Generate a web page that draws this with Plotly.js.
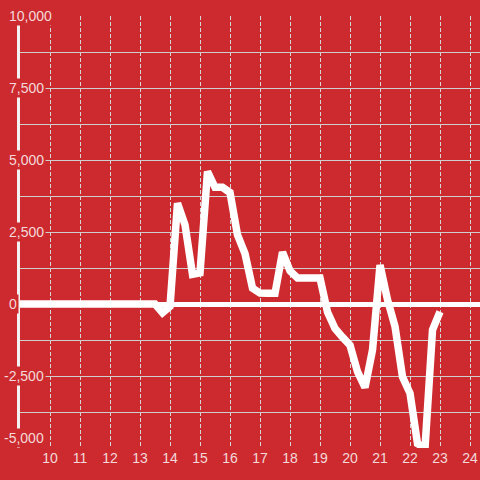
<!DOCTYPE html>
<html>
<head>
<meta charset="utf-8">
<script src="https://cdn.plot.ly/plotly-3.0.1.min.js"></script>
<style>
  html, body { margin: 0; padding: 0; background: #cd2a2f; }
  #chart { width: 480px; height: 480px; }
</style>
</head>
<body>
<div id="chart"></div>
<script>
// ---- data ----
const hours = [
  9.0, 9.25, 9.5, 9.75, 10.0, 10.25, 10.5, 10.75, 11.0, 11.25, 11.5, 11.75,
  12.0, 12.25, 12.5, 12.75, 13.0, 13.25, 13.5, 13.75, 14.0, 14.25, 14.5, 14.75,
  15.0, 15.25, 15.5, 15.75, 16.0, 16.25, 16.5, 16.75, 17.0, 17.25, 17.5, 17.75,
  18.0, 18.25, 18.5, 18.75, 19.0, 19.25, 19.5, 19.75, 20.0, 20.25, 20.5, 20.75,
  21.0, 21.25, 21.5, 21.75, 22.0, 22.25, 22.5, 22.75, 23.0
];
const values = [
  0, 0, 0, 0, 0, 0, 0, 0, 0, 0, 0, 0,
  0, 0, 0, 0, 0, 0, 0, -300, -80, 3500, 2750, 1030,
  1080, 4600, 4050, 4050, 3870, 2400, 1750, 550, 380, 370, 370, 1800,
  1150, 900, 900, 900, 900, -280, -850, -1150, -1430, -2350, -2900, -1600,
  1350, 150, -780, -2530, -3100, -4850, -5000, -900, -270
];
const xTicks = [10, 11, 12, 13, 14, 15, 16, 17, 18, 19, 20, 21, 22, 23, 24];
const yLabelValues = [-5000, -2500, 0, 2500, 5000, 7500, 10000];

// ---- style ----
const BG = '#cd2a2f';
const LABEL = '#f3d9d9';
const FONT = 'Liberation Sans, Arial, sans-serif';

const trace = {
  x: hours,
  y: values,
  type: 'scatter',
  mode: 'lines',
  line: { color: '#ffffff', width: 7.5 },
  hoverinfo: 'skip',
  cliponaxis: true
};

const annotations = yLabelValues.map((v, i) => ({
  xref: 'paper', x: 0,
  yref: 'y', y: v,
  xanchor: 'left',
  yanchor: i === 0 ? 'bottom' : 'middle',
  xshift: String(v).startsWith('-') ? -18 : -13,
  text: v.toLocaleString('en-US'),
  showarrow: false,
  bgcolor: BG,
  borderpad: 1,
  font: { family: FONT, size: 14, color: LABEL }
}));

const layout = {
  width: 480,
  height: 480,
  paper_bgcolor: BG,
  plot_bgcolor: BG,
  margin: { l: 20, r: 0, t: 16, b: 32 },
  showlegend: false,
  xaxis: {
    range: [9, 24.333],
    tickmode: 'array',
    tickvals: xTicks,
    ticktext: xTicks.map(String),
    showgrid: true,
    gridcolor: '#d6d6d6',
    gridwidth: 1,
    griddash: '4px,2px',
    zeroline: false,
    showline: false,
    ticks: '',
    tickfont: { family: FONT, size: 14, color: LABEL },
    fixedrange: true
  },
  yaxis: {
    range: [-5000, 10000],
    tick0: 0,
    dtick: 1250,
    showticklabels: false,
    showgrid: true,
    gridcolor: '#cfcfcf',
    gridwidth: 1,
    zeroline: true,
    zerolinecolor: '#ffffff',
    zerolinewidth: 5,
    showline: true,
    linecolor: '#f2f2f2',
    linewidth: 3,
    ticks: '',
    fixedrange: true
  },
  annotations: annotations
};

Plotly.newPlot('chart', [trace], layout, { displayModeBar: false, staticPlot: true });
</script>
</body>
</html>
